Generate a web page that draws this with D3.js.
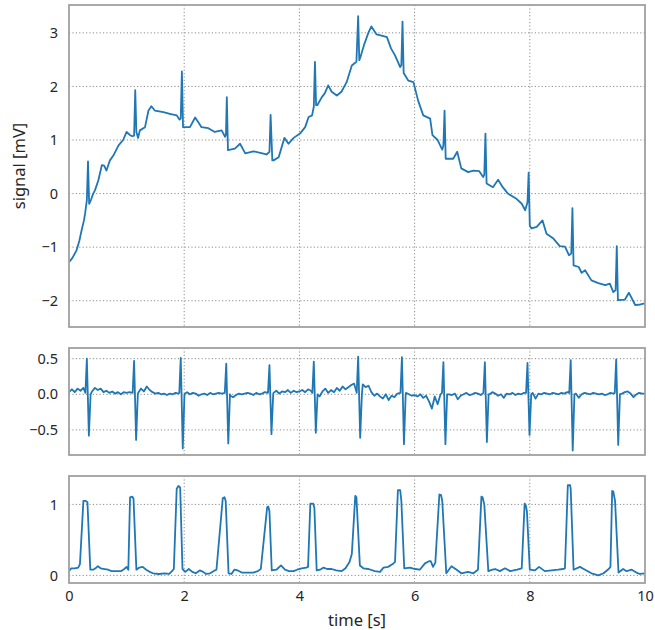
<!DOCTYPE html>
<html><head><meta charset="utf-8">
<script src="https://cdn.jsdelivr.net/npm/d3@7"></script>
<style>body{margin:0;background:#fff}svg{display:block}text{font-family:"Noto Sans","Open Sans",sans-serif;fill:#262626}</style>
</head><body><svg id="c" width="655" height="630"></svg>
<script>
// ---- data ----
const xTicks = [0, 2, 4, 6, 8, 10];
const rawTicks = [-2, -1, 0, 1, 2, 3];
const filtTicks = [-0.5, 0.0, 0.5];
const envTicks = [0, 1];

// raw signal [time s, mV]
const rawSignal = [[0.00,-1.28],[0.06,-1.20],[0.13,-1.06],[0.18,-0.88],[0.22,-0.68],[0.26,-0.50],[0.28,-0.37],[0.31,-0.12],[0.33,0.60],[0.35,-0.19],[0.38,-0.12],[0.42,0.00],[0.45,0.06],[0.51,0.25],[0.57,0.53],[0.61,0.52],[0.65,0.43],[0.71,0.62],[0.77,0.71],[0.86,0.90],[0.94,1.00],[1.00,1.15],[1.06,1.09],[1.10,1.07],[1.13,1.08],[1.15,1.93],[1.17,1.15],[1.20,1.04],[1.23,1.18],[1.32,1.24],[1.38,1.55],[1.43,1.63],[1.49,1.55],[1.64,1.52],[1.75,1.49],[1.87,1.46],[1.92,1.38],[1.94,1.40],[1.96,2.28],[1.98,1.24],[2.10,1.24],[2.19,1.42],[2.24,1.34],[2.30,1.24],[2.42,1.22],[2.53,1.15],[2.65,1.18],[2.71,1.06],[2.725,1.10],[2.74,1.80],[2.76,0.81],[2.88,0.84],[2.97,0.93],[3.06,0.75],[3.20,0.79],[3.32,0.76],[3.43,0.73],[3.48,0.78],[3.50,1.47],[3.53,0.62],[3.55,0.62],[3.64,0.68],[3.74,1.04],[3.81,0.93],[3.90,1.04],[4.01,1.12],[4.10,1.24],[4.16,1.43],[4.22,1.46],[4.25,1.62],[4.27,2.46],[4.29,1.65],[4.31,1.65],[4.39,1.80],[4.44,1.87],[4.50,2.02],[4.56,1.90],[4.65,1.83],[4.73,1.90],[4.82,2.08],[4.91,2.39],[4.99,2.46],[5.02,3.31],[5.04,2.49],[5.06,2.55],[5.13,2.80],[5.20,3.01],[5.25,3.12],[5.34,2.97],[5.46,2.94],[5.52,2.92],[5.59,2.71],[5.66,2.58],[5.75,2.36],[5.77,2.40],[5.79,3.21],[5.81,2.25],[5.89,2.11],[5.98,2.08],[6.06,1.74],[6.15,1.46],[6.27,1.40],[6.31,1.09],[6.40,1.00],[6.48,0.82],[6.50,0.90],[6.52,1.55],[6.54,0.65],[6.67,0.65],[6.74,0.78],[6.81,0.47],[6.93,0.40],[7.02,0.43],[7.12,0.42],[7.19,0.31],[7.21,0.35],[7.23,1.12],[7.25,0.19],[7.36,0.12],[7.45,0.26],[7.53,0.12],[7.62,0.00],[7.76,-0.09],[7.86,-0.19],[7.92,-0.31],[7.96,-0.16],[7.98,0.39],[8.00,-0.60],[8.03,-0.65],[8.12,-0.62],[8.22,-0.50],[8.29,-0.75],[8.41,-0.84],[8.52,-0.98],[8.61,-0.99],[8.68,-1.15],[8.72,-1.12],[8.74,-0.27],[8.76,-1.34],[8.85,-1.37],[8.90,-1.48],[8.96,-1.43],[9.07,-1.62],[9.19,-1.67],[9.31,-1.71],[9.39,-1.68],[9.45,-1.84],[9.49,-1.80],[9.51,-0.98],[9.53,-1.99],[9.65,-1.98],[9.72,-1.85],[9.83,-2.08],[9.92,-2.07],[10.00,-2.05]];

// filtered signal: baseline samples every 0.05 s, plus QRS beats [time, R peak, S trough]
const filtDt = 0.05;
const filtBaseline = [
 0.03,0.07,0.03,0.08,0.05,0.09,0.04,0.05,0.04,0.09,0.06,0.08,0.03,0.05,0.02,0.04,0.01,0.03,0.00,0.03,
 0.02,0.03,0.00,0.04,0.02,0.08,0.04,0.11,0.06,0.03,0.01,0.02,0.00,0.01,-0.01,0.01,0.00,0.02,0.01,0.02,
 0.01,0.03,0.00,0.02,0.01,-0.02,0.00,0.01,-0.01,0.02,0.00,0.01,0.02,0.01,-0.01,0.00,-0.02,-0.04,-0.01,0.01,
 0.00,0.01,0.02,0.01,-0.01,0.02,0.00,0.01,0.03,0.01,0.04,0.02,0.05,0.01,0.04,0.03,0.06,0.02,0.05,0.03,
 0.04,0.06,0.03,0.07,0.05,0.03,0.08,-0.03,0.04,0.08,0.02,0.06,0.03,0.09,0.05,0.11,0.07,0.10,0.13,0.15,
 0.12,0.08,0.14,0.10,0.12,0.03,-0.02,0.01,-0.03,-0.06,0.00,-0.08,-0.02,-0.04,0.01,-0.05,0.00,0.02,0.00,-0.02,
 -0.01,-0.03,0.00,-0.05,-0.02,-0.10,-0.20,-0.03,-0.14,0.00,0.01,0.02,0.00,-0.01,0.01,-0.07,-0.02,0.00,0.02,-0.01,
 0.00,0.02,0.01,-0.01,0.01,0.02,0.00,0.03,0.01,-0.02,0.00,-0.05,0.01,0.00,0.02,-0.01,0.01,0.00,0.02,0.01,
 0.00,0.02,-0.06,0.01,0.00,0.02,0.01,0.00,0.02,0.01,0.00,0.02,0.01,0.03,0.00,-0.01,0.01,-0.05,0.00,0.02,
 0.01,0.00,0.02,0.01,0.00,0.01,-0.01,0.00,0.02,0.01,0.00,0.02,0.01,0.03,0.04,0.01,-0.04,0.00,0.02,0.01,
 0.01];
const filtBeats = [[0.31,0.50,-0.58],[1.13,0.47,-0.64],[1.94,0.51,-0.76],[2.73,0.43,-0.69],[3.48,0.41,-0.56],[4.25,0.46,-0.54],[5.02,0.53,-0.61],[5.78,0.52,-0.70],[6.50,0.45,-0.70],[7.22,0.45,-0.67],[7.96,0.44,-0.57],[8.71,0.48,-0.79],[9.50,0.49,-0.71]];

// envelope [time s, value]
const envelope = [[0.00,0.06],[0.04,0.10],[0.10,0.10],[0.16,0.11],[0.19,0.16],[0.25,1.05],[0.29,1.05],[0.32,1.03],[0.37,0.08],[0.42,0.08],[0.46,0.10],[0.50,0.13],[0.55,0.10],[0.62,0.09],[0.68,0.08],[0.74,0.06],[0.82,0.06],[0.90,0.06],[0.96,0.09],[1.00,0.12],[1.03,0.08],[1.06,1.10],[1.10,1.11],[1.12,1.08],[1.17,0.08],[1.22,0.11],[1.28,0.12],[1.34,0.08],[1.40,0.05],[1.46,0.03],[1.56,0.02],[1.66,0.03],[1.74,0.02],[1.80,0.07],[1.82,0.09],[1.87,1.22],[1.90,1.26],[1.93,1.24],[1.97,0.09],[2.02,0.05],[2.08,0.09],[2.14,0.05],[2.20,0.03],[2.27,0.07],[2.33,0.05],[2.38,0.02],[2.45,0.03],[2.53,0.07],[2.56,0.08],[2.67,1.09],[2.70,1.10],[2.72,1.05],[2.77,0.03],[2.82,0.02],[2.87,0.08],[2.93,0.07],[3.00,0.04],[3.10,0.04],[3.20,0.04],[3.28,0.06],[3.33,0.09],[3.44,0.96],[3.46,0.97],[3.48,0.90],[3.52,0.07],[3.60,0.08],[3.68,0.14],[3.75,0.08],[3.82,0.06],[3.90,0.06],[3.96,0.08],[4.04,0.10],[4.12,0.11],[4.15,0.12],[4.19,1.01],[4.24,1.01],[4.26,0.95],[4.30,0.07],[4.36,0.08],[4.42,0.11],[4.48,0.09],[4.56,0.09],[4.64,0.07],[4.73,0.06],[4.80,0.10],[4.87,0.19],[4.91,0.30],[4.97,1.12],[4.99,1.10],[5.05,0.14],[5.11,0.10],[5.20,0.09],[5.31,0.06],[5.40,0.05],[5.46,0.11],[5.54,0.12],[5.62,0.16],[5.66,0.19],[5.71,1.20],[5.75,1.20],[5.77,1.05],[5.82,0.10],[5.92,0.11],[6.01,0.09],[6.09,0.08],[6.18,0.17],[6.25,0.20],[6.28,0.20],[6.32,0.12],[6.36,0.18],[6.43,1.14],[6.46,1.13],[6.48,1.05],[6.55,0.03],[6.64,0.13],[6.73,0.08],[6.81,0.03],[6.93,0.05],[7.02,0.03],[7.10,0.08],[7.16,1.11],[7.18,1.10],[7.21,1.00],[7.28,0.06],[7.35,0.08],[7.40,0.09],[7.48,0.06],[7.57,0.10],[7.66,0.06],[7.78,0.08],[7.86,0.10],[7.91,1.01],[7.93,0.99],[7.95,0.90],[8.00,0.08],[8.09,0.07],[8.16,0.12],[8.26,0.06],[8.38,0.07],[8.49,0.08],[8.58,0.09],[8.61,0.10],[8.66,1.27],[8.70,1.27],[8.71,1.22],[8.76,0.08],[8.87,0.12],[8.96,0.08],[9.07,0.03],[9.19,0.00],[9.28,0.03],[9.37,0.09],[9.40,0.12],[9.43,1.19],[9.45,1.18],[9.48,1.05],[9.54,0.04],[9.62,0.09],[9.68,0.06],[9.77,0.08],[9.85,0.04],[9.91,0.02],[10.00,0.03]];

// ---- build filtered series from baseline + beats ----
let filtered = filtBaseline.map((v, i) => [i * filtDt, v])
  .filter(([t]) => !filtBeats.some(b => t > b[0] - 0.035 && t < b[0] + 0.07));
filtBeats.forEach(([t, r, s]) => {
  filtered.push([t - 0.025, 0.02], [t, r], [t + 0.035, s], [t + 0.065, 0.0]);
});
filtered.sort((a, b) => a[0] - b[0]);

// ---- layout ----
const svg = d3.select("#c");
const L = 69, R = 645;
const FONT = '"Noto Sans","Open Sans",sans-serif';
const x = d3.scaleLinear().domain([0, 10]).range([L, R]);
const panels = [
  {top: 5, bottom: 327, domain: [-2.49, 3.52], ticks: rawTicks, fmt: d => d3.format("d")(d).replace("-", "\u2212"), data: rawSignal},
  {top: 348, bottom: 455, domain: [-0.852, 0.65], ticks: filtTicks, fmt: d => d3.format(".1f")(d).replace("-", "\u2212"), data: filtered},
  {top: 476, bottom: 583, domain: [-0.107, 1.40], ticks: envTicks, fmt: d => d3.format("d")(d), data: envelope}
];

panels.forEach((p, i) => {
  const y = d3.scaleLinear().domain(p.domain).range([p.bottom, p.top]);
  const g = svg.append("g");
  g.append("defs").append("clipPath").attr("id", "clip" + i)
    .append("rect").attr("x", L).attr("y", p.top).attr("width", R - L).attr("height", p.bottom - p.top);
  // grid
  g.selectAll(".gx").data(xTicks.filter(d => d > 0 && d < 10)).join("line")
    .attr("x1", d => x(d)).attr("x2", d => x(d)).attr("y1", p.top).attr("y2", p.bottom)
    .attr("stroke", "#8c8c8c").attr("stroke-width", 1).attr("stroke-dasharray", "1.2,2.2");
  g.selectAll(".gy").data(p.ticks).join("line")
    .attr("x1", L).attr("x2", R).attr("y1", d => y(d)).attr("y2", d => y(d))
    .attr("stroke", "#8c8c8c").attr("stroke-width", 1).attr("stroke-dasharray", "1.2,2.2");
  // y axis labels
  const ya = d3.axisLeft(y).tickValues(p.ticks).tickFormat(p.fmt).tickSize(0).tickPadding(11);
  const ag = g.append("g").attr("transform", `translate(${L},0)`).call(ya);
  ag.select(".domain").remove();
  ag.selectAll("text").attr("font-size", 14.5).attr("fill", "#262626").style("font-family", FONT);
  // line
  g.append("path").datum(p.data).attr("clip-path", `url(#clip${i})`)
    .attr("fill", "none").attr("stroke", "#1f77b4").attr("stroke-width", 1.8)
    .attr("stroke-linejoin", "round")
    .attr("d", d3.line().x(d => x(d[0])).y(d => y(d[1])));
  // frame
  g.append("rect").attr("x", L).attr("y", p.top).attr("width", R - L).attr("height", p.bottom - p.top)
    .attr("fill", "none").attr("stroke", "#a0a0a0").attr("stroke-width", 1.8);
  if (i === 2) {
    const xa = d3.axisBottom(x).tickValues(xTicks).tickFormat(d3.format("d")).tickSize(0).tickPadding(8);
    const xg = g.append("g").attr("transform", `translate(0,${p.bottom})`).call(xa);
    xg.select(".domain").remove();
    xg.selectAll("text").attr("font-size", 14.5).attr("fill", "#262626").style("font-family", FONT);
  }
});

svg.append("text").attr("x", (L + R) / 2).attr("y", 626).attr("text-anchor", "middle")
  .attr("font-size", 16.5).text("time [s]");
svg.append("text").attr("transform", `translate(25,${(5 + 327) / 2}) rotate(-90)`)
  .attr("text-anchor", "middle").attr("font-size", 16.5).text("signal [mV]");
</script></body></html>
